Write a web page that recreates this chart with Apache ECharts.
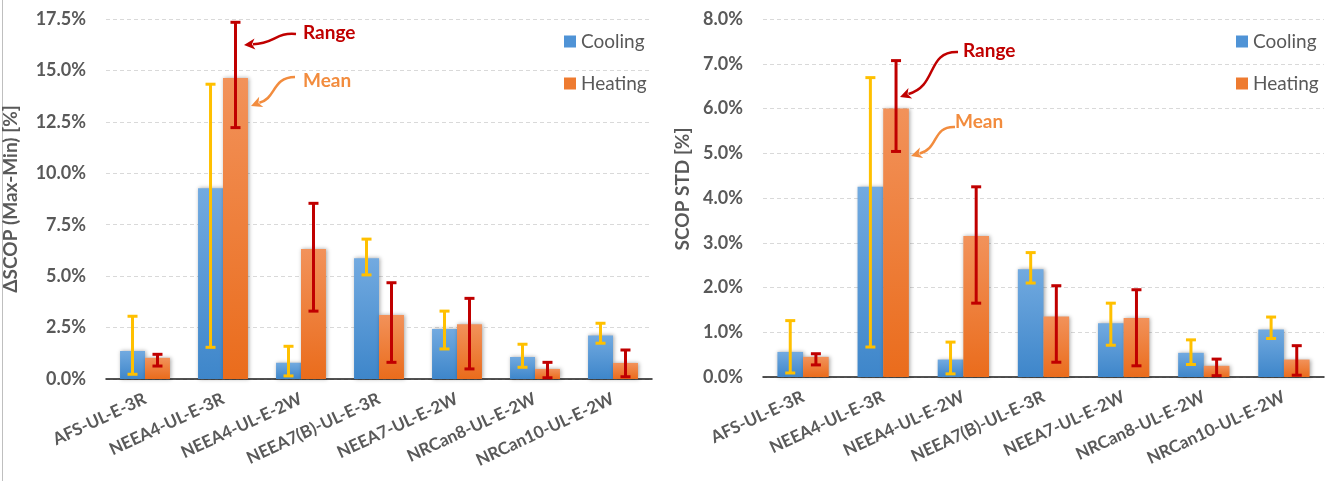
<!DOCTYPE html>
<html><head><meta charset="utf-8">
<script src="https://cdn.jsdelivr.net/npm/echarts@6/dist/echarts.min.js"></script>
<style>html,body{margin:0;padding:0;background:#fff;}#c{width:1327px;height:481px;}</style>
</head><body><div id="c"></div>
<script>
var categories = ['AFS-UL-E-3R','NEEA4-UL-E-3R','NEEA4-UL-E-2W','NEEA7(B)-UL-E-3R','NEEA7-UL-E-2W','NRCan8-UL-E-2W','NRCan10-UL-E-2W'];
// Left chart: ΔSCOP (Max-Min) [%]
var coolMeanL = [1.36, 9.27, 0.79, 5.87, 2.43, 1.07, 2.12];
var heatMeanL = [1.03, 14.63, 6.32, 3.11, 2.66, 0.49, 0.78];
var coolLowL  = [0.23, 1.54, 0.15, 5.06, 1.46, 0.57, 1.74];
var coolHighL = [3.05, 14.33, 1.59, 6.80, 3.30, 1.69, 2.71];
var heatLowL  = [0.63, 12.22, 3.30, 0.81, 0.49, 0.06, 0.11];
var heatHighL = [1.20, 17.34, 8.54, 4.68, 3.92, 0.81, 1.41];
// Right chart: SCOP STD [%]
var coolMeanR = [0.56, 4.25, 0.39, 2.41, 1.20, 0.54, 1.06];
var heatMeanR = [0.45, 6.00, 3.15, 1.35, 1.32, 0.25, 0.39];
var coolLowR  = [0.09, 0.67, 0.07, 2.10, 0.71, 0.28, 0.86];
var coolHighR = [1.26, 6.69, 0.78, 2.78, 1.65, 0.83, 1.34];
var heatLowR  = [0.27, 5.04, 1.65, 0.33, 0.25, 0.03, 0.04];
var heatHighR = [0.52, 7.07, 4.25, 2.04, 1.95, 0.40, 0.70];
var seriesNames = ['Cooling', 'Heating'];

var FONT = 'Lato';
var GRAY = '#595959';
var RED = '#C00000', GOLD = '#FFC000', ORANGE_TXT = '#F28C3E';
var blueGrad = new echarts.graphic.LinearGradient(0,0,0,1,[{offset:0,color:'#72AAE0'},{offset:1,color:'#3E86CA'}]);
var orangeGrad = new echarts.graphic.LinearGradient(0,0,0,1,[{offset:0,color:'#F2925A'},{offset:1,color:'#EA6C1C'}]);
var GAP = 0.36;

function zip3(lo, hi){ return lo.map(function(v,i){ return [i, v, hi[i]]; }); }

function errRender(sign, color){
  return function(params, api){
    var idx = api.value(0), lo = api.value(1), hi = api.value(2);
    var bw = api.size([1,0])[0];
    var off = sign * bw * (1-GAP) / 4;
    var pLo = api.coord([idx, lo]), pHi = api.coord([idx, hi]);
    var x = pLo[0] + off, cap = 5;
    var st = {stroke: color, lineWidth: 3};
    return {type:'group', children:[
      {type:'line', shape:{x1:x,y1:pHi[1],x2:x,y2:pLo[1]}, style:st},
      {type:'line', shape:{x1:x-cap,y1:pHi[1],x2:x+cap,y2:pHi[1]}, style:st},
      {type:'line', shape:{x1:x-cap,y1:pLo[1],x2:x+cap,y2:pLo[1]}, style:st}
    ]};
  };
}

function barSeries(name, data, idx, grad){
  return {name:name, type:'bar', xAxisIndex:idx, yAxisIndex:idx, data:data,
    barGap:'0%', barCategoryGap:(GAP*100)+'%',
    itemStyle:{color:grad, shadowBlur:4, shadowColor:'rgba(0,0,0,0.35)', shadowOffsetX:1, shadowOffsetY:0},
    emphasis:{disabled:true}, z:2};
}
function errSeries(name, lo, hi, idx, sign, color){
  return {name:name, type:'custom', xAxisIndex:idx, yAxisIndex:idx, data:zip3(lo,hi),
    encode:{x:0, y:[1,2]}, renderItem:errRender(sign, color), z:5, silent:true};
}

function xAxisCfg(gi){
  return {type:'category', gridIndex:gi, data:categories,
    axisLine:{lineStyle:{color:'#1a1a1a', width:1.5}}, axisTick:{show:false},
    axisLabel:{rotate:25, margin:19, color:GRAY, fontFamily:FONT, fontWeight:'bold', fontSize:17, interval:0}};
}
function yAxisCfg(gi, max, interval, name, gap, pad){
  return {type:'value', gridIndex:gi, min:0, max:max, interval:interval,
    name:name, nameLocation:'middle', nameRotate:90, nameGap:gap,
    nameTextStyle:{color:GRAY, fontFamily:FONT, fontWeight:'bold', fontSize:19, padding:pad},
    axisLine:{show:false}, axisTick:{show:false},
    splitLine:{lineStyle:{color:'#D9D9D9', type:[4,3], width:1}},
    axisLabel:{color:GRAY, fontFamily:FONT, fontWeight:'bold', fontSize:18, margin:20,
      formatter:function(v){ return v.toFixed(1)+'%'; }}};
}

function arrow(x1,y1,c1x,c1y,c2x,c2y,ex,ey,tx,ty,color){
  var dx = tx-ex, dy = ty-ey, L = Math.sqrt(dx*dx+dy*dy);
  var ux = dx/L, uy = dy/L, hl = 11, hw = 5.5;
  var bx = tx-ux*hl, by = ty-uy*hl;
  return [
    {type:'bezierCurve', shape:{x1:x1,y1:y1,cpx1:c1x,cpy1:c1y,cpx2:c2x,cpy2:c2y,x2:bx+ux*2,y2:by+uy*2},
      style:{stroke:color, lineWidth:2.5, fill:null}, z:100},
    {type:'polygon', shape:{points:[[tx,ty],[bx-uy*hw,by+ux*hw],[bx+ux*3,by+uy*3],[bx+uy*hw,by-ux*hw]]},
      style:{fill:color}, z:100}
  ];
}
function label(x, y, text, color){
  return {type:'text', x:x, y:y, z:100, style:{text:text, fill:color, font:'bold 19px '+FONT, textVerticalAlign:'middle'}};
}

var graphics = [{type:'line', shape:{x1:2.5,y1:0,x2:2.5,y2:481}, style:{stroke:'#BFBFBF', lineWidth:1}}]
  .concat(arrow(296,34, 276,32, 274,44, 256,44, 244,45, RED))
  .concat(arrow(295,77, 272,77, 276,99, 261,102, 251,106, ORANGE_TXT))
  .concat(arrow(958,52, 926,51, 938,86, 911,93, 900,97, RED))
  .concat(arrow(955,127, 932,126, 939,149, 921,153, 911,156, ORANGE_TXT))
  .concat([label(303,33,'Range',RED), label(303,81,'Mean',ORANGE_TXT),
           label(963,51,'Range',RED), label(955,122,'Mean',ORANGE_TXT)]);

function legendCfg(left){
  return {left:left, top:27, orient:'vertical', itemWidth:12, itemHeight:12, itemGap:23, icon:'rect',
    selectedMode:false,
    textStyle:{color:GRAY, fontFamily:FONT, fontSize:19},
    data:[{name:'Cooling', itemStyle:{color:'#4F93D6'}}, {name:'Heating', itemStyle:{color:'#EE7B30'}}]};
}

var option = {
  backgroundColor:'#fff',
  animation:false,
  legend:[legendCfg(559), legendCfg(1231)],
  grid:[{left:106, right:675, top:19, bottom:102},
        {left:763, right:3, top:19, bottom:104}],
  xAxis:[xAxisCfg(0), xAxisCfg(1)],
  yAxis:[yAxisCfg(0, 17.5, 2.5, 'ΔSCOP (Max-Min) [%]', 86, [0,0,0,0]),
         yAxisCfg(1, 8, 1, 'SCOP STD [%]', 71, [0,0,0,18])],
  series:[
    barSeries(seriesNames[0], coolMeanL, 0, blueGrad),
    barSeries(seriesNames[1], heatMeanL, 0, orangeGrad),
    errSeries('errCL', coolLowL, coolHighL, 0, -1, GOLD),
    errSeries('errHL', heatLowL, heatHighL, 0, 1, RED),
    barSeries(seriesNames[0], coolMeanR, 1, blueGrad),
    barSeries(seriesNames[1], heatMeanR, 1, orangeGrad),
    errSeries('errCR', coolLowR, coolHighR, 1, -1, GOLD),
    errSeries('errHR', heatLowR, heatHighR, 1, 1, RED)
  ],
  graphic:graphics
};
var chart = echarts.init(document.getElementById('c'), null, {renderer:'canvas'});
chart.setOption(option);
</script></body></html>
